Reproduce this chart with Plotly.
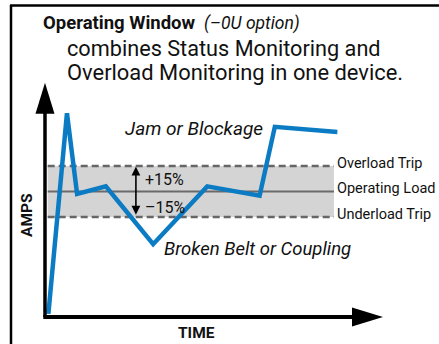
import plotly.graph_objects as go

# schematic current trace: time (arbitrary units) vs amps (% of operating load)
time_pts = [1, 6.5, 9.5, 18, 32, 48, 63.5, 68, 86.5]
amps_pts = [28, 146, 98.5, 103, 69, 103, 97.5, 138, 135]

operating_load = 100
overload_trip = 115
underload_trip = 85
band_end = 85.5
band_labels = ["Overload Trip", "Operating Load", "Underload Trip"]

axis_y0 = 26.2
axis_y_top = 164
axis_x_end = 100

W, H = 439, 344
X_RANGE = [-13.31, 116.57]
Y_RANGE = [10.3, 212.6]
FONT = "Roboto, sans-serif"
BLUE = "#0b7cc3"
INK = "#111"


def px(x):
    return x / W


def py(y):
    return 1 - y / H


def note(x, y, text, size, xanchor="left", **kw):
    return dict(xref="paper", yref="paper", x=px(x), y=py(y), text=text, showarrow=False,
                xanchor=xanchor, yanchor="middle", font=dict(size=size, color=INK), **kw)


fig = go.Figure()

fig.add_trace(go.Scatter(
    x=time_pts, y=amps_pts, mode="lines",
    line=dict(color=BLUE, width=4.5), hoverinfo="skip", showlegend=False,
))

dash = dict(color="#666", width=2.5, dash="7px,4px")
shapes = [
    # grey operating window
    dict(type="rect", x0=0.8, x1=band_end, y0=underload_trip, y1=overload_trip,
         fillcolor="#d4d4d4", line_width=0, layer="below"),
    dict(type="line", x0=0.8, x1=band_end, y0=overload_trip, y1=overload_trip, line=dash, layer="below"),
    dict(type="line", x0=0.8, x1=band_end, y0=underload_trip, y1=underload_trip, line=dash, layer="below"),
    dict(type="line", x0=0.8, x1=band_end, y0=operating_load, y1=operating_load,
         line=dict(color="#6a6a6a", width=2), layer="below"),
    # axes with arrowheads
    dict(type="line", x0=0, x1=0, y0=axis_y0, y1=axis_y_top - 15,
         line=dict(color="black", width=3.5)),
    dict(type="line", x0=-0.5, x1=axis_x_end - 8, y0=axis_y0, y1=axis_y0,
         line=dict(color="black", width=4)),
    dict(type="path", xsizemode="pixel", ysizemode="pixel", xanchor=0, yanchor=axis_y_top,
         path="M0,0 L-9.5,-31 L9.5,-31 Z", fillcolor="black", line_width=0),
    dict(type="path", xsizemode="pixel", ysizemode="pixel", xanchor=axis_x_end, yanchor=axis_y0,
         path="M0,0 L-31,9.5 L-31,-9.5 Z", fillcolor="black", line_width=0),
    # frame (top and left edges)
    dict(type="line", xref="paper", yref="paper", x0=px(10), x1=px(440), y0=py(5.5), y1=py(5.5),
         line=dict(color="black", width=2.5)),
    dict(type="line", xref="paper", yref="paper", x0=px(11), x1=px(11), y0=py(5), y1=py(345),
         line=dict(color="black", width=2.5)),
]

annotations = [
    # +/-15% double arrow
    dict(x=26.9, y=overload_trip - 0.5, ax=26.9, ay=underload_trip + 0.5, axref="x", ayref="y",
         xref="x", yref="y", text="", showarrow=True, arrowhead=2, arrowside="end+start",
         arrowwidth=1.6, arrowsize=1.1, arrowcolor="black"),
    dict(x=29, y=106.8, text="+15%", showarrow=False, xanchor="left", yanchor="middle",
         font=dict(size=16, color=INK)),
    dict(x=29, y=90.3, text="\u201315%", showarrow=False, xanchor="left", yanchor="middle",
         font=dict(size=16, color=INK)),
    dict(x=44.2, y=137, text="<i>Jam or Blockage</i>", showarrow=False, yanchor="middle",
         font=dict(size=19, color=INK)),
    dict(x=34.6, y=66.2, text="<i>Broken Belt or Coupling</i>", showarrow=False, xanchor="left",
         yanchor="middle", font=dict(size=18.5, color=INK)),
]
for lbl, yv in zip(band_labels, [overload_trip, operating_load, underload_trip]):
    annotations.append(dict(x=band_end + 0.3, y=yv + 1.5, text=lbl, showarrow=False, xanchor="left",
                            yanchor="middle", font=dict(size=14.5, color=INK)))

annotations += [
    note(41, 23, "<b>Operating Window</b>", 18.5),
    note(202, 23, "<i>(\u20130U option)</i>", 17.5),
    note(65, 48, "combines Status Monitoring and", 21.7),
    note(65, 73, "Overload Monitoring in one device.", 21.9),
    note(27, 215, "<b>AMPS</b>", 15.5, xanchor="center", textangle=-90),
    note(196, 333, "<b>TIME</b>", 15.5, xanchor="center"),
]

fig.update_layout(
    width=W, height=H, margin=dict(l=0, r=0, t=0, b=0),
    paper_bgcolor="white", plot_bgcolor="white",
    font=dict(family=FONT),
    xaxis=dict(range=X_RANGE, visible=False, fixedrange=True),
    yaxis=dict(range=Y_RANGE, visible=False, fixedrange=True),
    shapes=shapes, annotations=annotations, showlegend=False,
)

fig.write_html("out.html", config={"displayModeBar": False},
               post_script="document.body.style.margin='0';")
